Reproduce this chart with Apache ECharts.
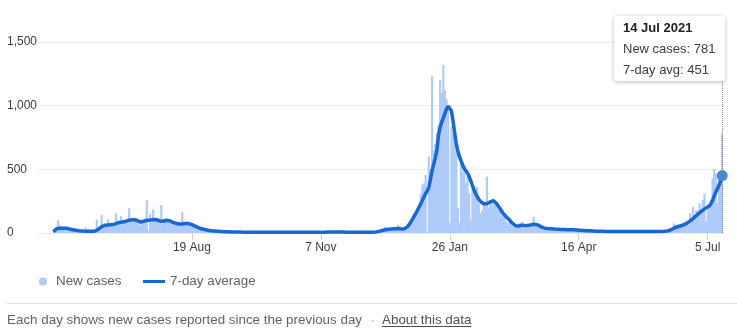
<!DOCTYPE html>
<html><head><meta charset="utf-8">
<script src="https://cdn.jsdelivr.net/npm/echarts@6/dist/echarts.min.js"></script>
<style>html,body{margin:0;padding:0;background:#fff}#c{width:737px;height:332px}</style>
</head><body><div id="c"></div>
<script>
// Axis starts 16 May 2020; reported data begins 25 May 2020 (first 9 days empty)
const FIRST_DAY = '2020-05-16';
const TICK_DATES = ['2020-08-19', '2020-11-07', '2021-01-26', '2021-04-16', '2021-07-05'];
const Y_TICKS = [0, 500, 1000, 1500];
const SERIES_NAMES = ['New cases', '7-day average'];
const FOOTER_NOTE = 'Each day shows new cases reported since the previous day';
const FOOTER_LINK = 'About this data';

const NEW_CASES = [
  null, null, null, null, null, null, null, null, null,
  // May 2020 (25-31)
  5, 30, 40, 100, 60, 30, 40,
  // Jun
  45, 35, 30, 25, 28, 20, 22, 18, 15, 20, 12, 14, 10, 44, 12, 8, 15, 10, 12, 18,
  107, 30, 40, 141, 60, 55, 70, 107, 50, 65,
  // Jul
  70, 60, 154, 75, 80, 133, 70, 85, 90, 100, 194, 95, 110, 100, 120, 89, 70, 60, 95, 85,
  100, 259, 20, 149, 90, 186, 110, 120, 95, 80, 220,
  // Aug
  70, 100, 110, 95, 90, 80, 85, 70, 75, 65, 80, 70, 165, 70, 80, 75, 65, 60, 55, 50,
  45, 40, 35, 38, 30, 32, 25, 20, 22, 18, 15,
  // Sep
  15, 18, 12, 14, 10, 12, 9, 11, 8, 10, 7, 9, 6, 8, 7, 5, 9, 6, 5, 8,
  4, 7, 6, 5, 8, 6, 4, 7, 5, 6,
  // Oct
  6, 5, 7, 4, 8, 6, 5, 7, 4, 6, 5, 3, 6, 5, 7, 4, 5, 8, 6, 5,
  7, 6, 4, 8, 5, 6, 7, 5, 6, 4, 7,
  // Nov
  6, 5, 8, 4, 7, 6, 5, 7, 6, 5, 8, 7, 6, 9, 5, 8, 24, 9, 7, 6,
  8, 5, 7, 6, 4, 8, 5, 6, 7, 5,
  // Dec
  6, 5, 7, 6, 5, 8, 6, 5, 7, 8, 9, 10, 12, 15, 14, 18, 50, 20, 28, 30,
  35, 32, 30, 38, 63, 33, 40, 30, 45, 25, 40,
  // Jan 2021
  60, 90, 100, 130, 160, 150, 200, 310, 380, 390, 455, 10, 600, 500, 1231, 652, 700, 783, 850, 1200,
  1100, 1319, 1122, 1050, 991, 80, 834, 783, 704, 625, 200,
  // Feb
  80, 600, 481, 520, 390, 450, 311, 100, 364, 330, 285, 364, 233, 154, 180, 220, 240, 442, 200, 260,
  240, 250, 220, 200, 180, 190, 140, 141,
  // Mar
  150, 90, 80, 85, 60, 50, 63, 45, 55, 75, 80, 89, 60, 63, 55, 50, 70, 60, 128, 55,
  50, 45, 40, 35, 42, 30, 35, 28, 32, 30, 25,
  // Apr
  30, 25, 35, 28, 22, 30, 26, 24, 28, 20, 27, 22, 30, 18, 25, 20, 24, 19, 22, 16,
  18, 20, 15, 17, 14, 18, 12, 16, 11, 14,
  // May
  12, 14, 10, 13, 11, 15, 9, 12, 13, 10, 14, 11, 12, 10, 13, 15, 9, 12, 11, 14,
  10, 12, 13, 9, 15, 11, 12, 10, 14, 12, 11,
  // Jun
  12, 10, 14, 11, 13, 12, 15, 14, 18, 22, 25, 30, 40, 76, 63, 45, 70, 63, 76, 55,
  70, 68, 80, 154, 100, 207, 120, 180, 150, 233,
  // Jul (1-14)
  170, 259, 311, 90, 180, 200, 259, 429, 500, 468, 233, 442, 420, 781
];

const AVG7 = [
  null, null, null, null, null, null, null, null, null,
  // May 2020 (25-31)
  10, 22, 33, 37, 38, 36, 38,
  // Jun
  40, 38, 34, 31, 28, 26, 24, 22, 20, 18, 16, 15, 14, 14, 13, 13, 13, 13, 14, 15,
  20, 30, 40, 50, 57, 60, 62, 63, 62, 64,
  // Jul
  66, 70, 76, 80, 84, 85, 86, 88, 92, 97, 100, 102, 104, 105, 103, 98, 90, 86, 88, 92,
  96, 100, 99, 101, 103, 106, 107, 104, 100, 95, 88,
  // Aug
  92, 98, 100, 99, 97, 92, 86, 80, 76, 73, 71, 70, 71, 73, 75, 76, 74, 70, 66, 60,
  54, 48, 43, 38, 33, 30, 27, 24, 22, 20, 18,
  // Sep
  17, 16, 15, 14, 13, 12, 11, 10, 10, 9, 9, 8, 8, 8, 7, 7, 7, 7, 6, 6,
  6, 6, 6, 6, 6, 6, 6, 6, 6, 6,
  // Oct
  6, 6, 6, 6, 6, 6, 6, 6, 5, 5, 5, 5, 5, 5, 5, 5, 5, 6, 6, 6,
  6, 6, 6, 6, 6, 6, 6, 6, 6, 6, 6,
  // Nov
  6, 6, 6, 6, 6, 6, 6, 6, 6, 6, 7, 7, 7, 7, 7, 7, 8, 8, 8, 7,
  7, 7, 6, 6, 6, 6, 6, 6, 6, 6,
  // Dec
  6, 6, 6, 6, 6, 6, 6, 6, 6, 6, 8, 10, 13, 16, 20, 23, 26, 28, 30, 31,
  32, 33, 34, 35, 35, 34, 32, 31, 34, 42, 52,
  // Jan 2021
  70, 90, 112, 135, 155, 180, 205, 230, 255, 285, 310, 330, 360, 420, 490, 540, 590, 650, 770, 830,
  870, 905, 940, 975, 995, 998, 960, 880, 790, 700, 640,
  // Feb
  600, 565, 534, 505, 488, 470, 445, 410, 375, 340, 310, 285, 265, 248, 236, 230, 228, 230, 236, 244,
  250, 254, 246, 232, 212, 194, 174, 155,
  // Mar
  140, 128, 116, 102, 88, 74, 63, 56, 54, 55, 58, 62, 61, 58, 59, 61, 64, 66, 68, 68,
  66, 61, 54, 46, 41, 38, 36, 35, 34, 33, 32,
  // Apr
  31, 31, 30, 29, 28, 28, 27, 27, 26, 26, 26, 25, 25, 24, 24, 23, 22, 21, 20, 19,
  18, 17, 17, 16, 16, 15, 14, 14, 13, 13,
  // May
  13, 13, 12, 12, 12, 12, 12, 12, 12, 12, 12, 12, 12, 12, 12, 12, 12, 12, 12, 12,
  12, 12, 12, 12, 12, 12, 12, 12, 12, 12, 12,
  // Jun
  12, 12, 12, 12, 12, 12, 12, 13, 14, 16, 19, 24, 33, 38, 43, 47, 51, 55, 59, 64,
  70, 76, 84, 93, 103, 115, 126, 137, 148, 160,
  // Jul (1-14)
  170, 180, 190, 197, 205, 212, 230, 255, 290, 320, 345, 375, 405, 451
];

const MONTHS = ['Jan','Feb','Mar','Apr','May','Jun','Jul','Aug','Sep','Oct','Nov','Dec'];
const startMs = Date.parse(FIRST_DAY + 'T00:00:00Z');
const DATES = NEW_CASES.map((_, k) => new Date(startMs + k * 86400000).toISOString().slice(0, 10));
function fmtShort(iso) { const p = iso.split('-'); return (+p[2]) + ' ' + MONTHS[+p[1] - 1]; }
function fmtLong(iso) { return fmtShort(iso) + ' ' + iso.slice(0, 4); }
const LAST = DATES.length - 1;

const FONT = 'Arial, "Liberation Sans", sans-serif';
const BAR_COLOR = '#aecbfa';
const LINE_COLOR = '#1967d2';
const SMALL = 13.4;

const lineData = AVG7.map((v, k) => k === LAST
  ? { value: v, symbol: 'circle', symbolSize: 10, itemStyle: { color: '#4285f4' } }
  : v);

const mc = document.createElement('canvas').getContext('2d');
mc.font = SMALL + 'px ' + FONT;
const noteW = mc.measureText(FOOTER_NOTE).width;
const linkW = mc.measureText(FOOTER_LINK).width;
const noteX = 7;
const dotX = noteX + noteW + 11;
const linkX = noteX + noteW + 20;

const chart = echarts.init(document.getElementById('c'), null, { renderer: 'canvas' });
chart.setOption({
  animation: false,
  textStyle: { fontFamily: FONT },
  grid: { left: 38, right: 14, top: 42, bottom: 99, containLabel: false },
  xAxis: {
    type: 'category',
    data: DATES,
    boundaryGap: true,
    axisLine: { show: false },
    axisTick: {
      show: true, alignWithLabel: true, length: 7,
      interval: (i, v) => TICK_DATES.includes(v),
      lineStyle: { color: '#d0d3d7' }
    },
    axisLabel: {
      interval: (i, v) => TICK_DATES.includes(v),
      formatter: v => fmtShort(v),
      color: '#3c4043', fontSize: 12, margin: 9, fontFamily: FONT
    },
    splitLine: { show: false }
  },
  yAxis: {
    type: 'value',
    min: Y_TICKS[0], max: Y_TICKS[Y_TICKS.length - 1], interval: Y_TICKS[1] - Y_TICKS[0],
    axisLine: { show: false }, axisTick: { show: false },
    axisLabel: {
      align: 'left', margin: 31, color: '#3c4043', fontSize: 12, fontFamily: FONT,
      formatter: v => v.toLocaleString('en-US')
    },
    splitLine: { lineStyle: { color: '#ebebeb', width: 1 } }
  },
  legend: [
    {
      data: [SERIES_NAMES[0]], icon: 'circle', itemWidth: 16, itemHeight: 8,
      left: 34, top: 270, selectedMode: false,
      textStyle: { color: '#5f6368', fontSize: SMALL, fontFamily: FONT }
    },
    {
      data: [SERIES_NAMES[1]], icon: 'rect', itemWidth: 22, itemHeight: 3,
      left: 138, top: 270, selectedMode: false,
      textStyle: { color: '#5f6368', fontSize: SMALL, fontFamily: FONT }
    }
  ],
  tooltip: {
    trigger: 'axis',
    triggerOn: 'none',
    alwaysShowContent: true,
    transitionDuration: 0,
    backgroundColor: '#fff',
    borderWidth: 0,
    padding: [1, 9, 1, 9],
    textStyle: { fontSize: 13, color: '#3c4043', fontFamily: FONT },
    extraCssText: 'box-shadow:0 1px 4px rgba(0,0,0,0.28);border-radius:3px;',
    axisPointer: { type: 'line', lineStyle: { type: 'dotted', color: '#80868b', width: 1 } },
    position: (point, params, dom, rect, size) => [point[0] + 3 - size.contentSize[0], 16],
    formatter: params => {
      const idx = params[0].dataIndex;
      const ls = 'line-height:21px;white-space:nowrap;';
      return '<div style="' + ls + 'font-weight:bold;color:#202124">' + fmtLong(DATES[idx]) + '</div>' +
        '<div style="' + ls + '">New cases: ' + NEW_CASES[idx].toLocaleString('en-US') + '</div>' +
        '<div style="' + ls + '">7-day avg: ' + AVG7[idx].toLocaleString('en-US') + '</div>';
    }
  },
  series: [
    {
      name: SERIES_NAMES[0], type: 'bar', data: NEW_CASES,
      barWidth: 2.2, itemStyle: { color: BAR_COLOR },
      emphasis: { disabled: true }
    },
    {
      name: SERIES_NAMES[1], type: 'line', data: lineData,
      symbol: 'none', showSymbol: true, showAllSymbol: true,
      lineStyle: { color: LINE_COLOR, width: 3.5 }, itemStyle: { color: LINE_COLOR },
      emphasis: { disabled: true }, z: 3
    }
  ],
  graphic: [
    { type: 'line', shape: { x1: 6, y1: 303.5, x2: 737, y2: 303.5 }, style: { stroke: '#e0e0e0', lineWidth: 1 } },
    { type: 'text', x: noteX, y: 320, style: { text: FOOTER_NOTE, fontSize: SMALL, fontFamily: FONT, fill: '#5f6368', verticalAlign: 'middle' } },
    { type: 'text', x: dotX, y: 320, style: { text: '·', fontSize: SMALL, fontFamily: FONT, fill: '#9aa0a6', align: 'center', verticalAlign: 'middle' } },
    { type: 'text', x: linkX, y: 320, style: { text: FOOTER_LINK, fontSize: SMALL, fontFamily: FONT, fill: '#4d5156', verticalAlign: 'middle' } },
    { type: 'line', shape: { x1: linkX, y1: 326.5, x2: linkX + linkW, y2: 326.5 }, style: { stroke: '#4d5156', lineWidth: 1 } }
  ]
});
chart.dispatchAction({ type: 'showTip', seriesIndex: 1, dataIndex: LAST });
</script>
</body></html>
